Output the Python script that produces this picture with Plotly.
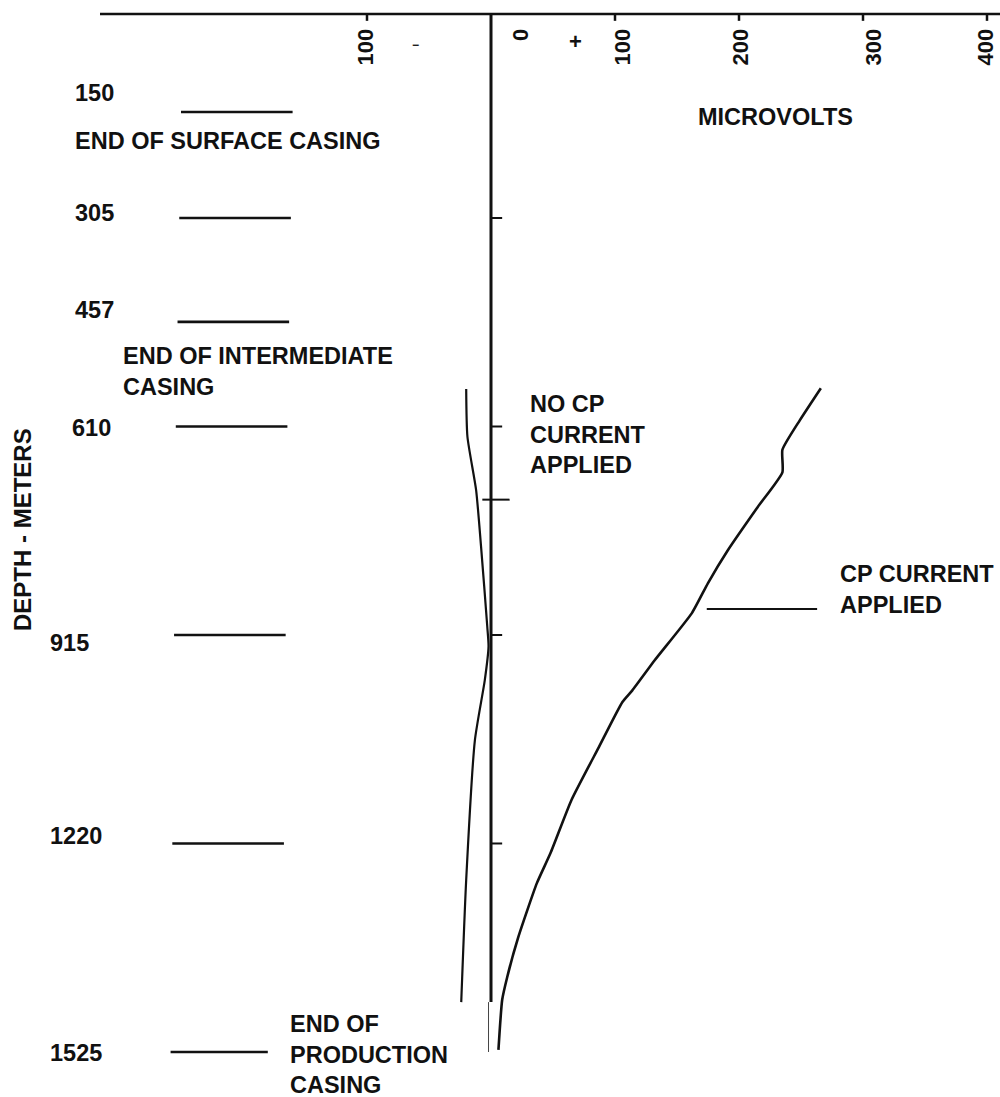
import plotly.graph_objects as go

# ---------------- data ----------------
# Casing depth marks (m)
casing_depths = [150, 305, 457, 610, 915, 1220, 1525]
casing_labels = ["150", "305", "457", "610", "915", "1220", "1525"]

# NO CP current applied curve (microvolts vs depth m)
nocp_depth = [555, 625, 703, 786, 903, 932, 981, 1069, 1273, 1452]
nocp_uv = [-20, -19, -12, -8, -3, -2, -5, -13, -20, -24]

# CP current applied curve
cp_depth = [554, 601, 644, 677, 728, 791, 839, 883, 952, 996, 1013, 1079,
            1156, 1234, 1278, 1357, 1416, 1449, 1522]
cp_uv = [266, 249, 235, 235, 215, 191, 175, 162, 132, 114, 106, 87,
         65, 48, 37, 22, 13, 9, 6]

# Top axis ticks
top_tick_vals = [-100, 100, 200, 300, 400]
top_tick_text = ["100", "100", "200", "300", "400"]

# Depth ticks on zero line
zero_ticks = [305, 610, 915, 1220]
cross_tick = 717

# ---------------- geometry helpers (pixel -> paper) ----------------
W, H = 1000, 1097
X0PX, XSCALE = 491.0, 1.24       # px of 0 uV, px per uV
Y0PX, YSCALE = 9.5, 0.6836       # px of depth 0, px per m
xr = [(0 - X0PX) / XSCALE, (W - X0PX) / XSCALE]
yr = [(H - Y0PX) / YSCALE, (0 - Y0PX) / YSCALE]
AXIS_TOP = (14 - Y0PX) / YSCALE  # depth level of the drawn top axis line


def px(x):
    return x / W


def py(y):
    return 1 - y / H


FONT = dict(family="Liberation Sans, Arial, sans-serif", size=23.5, color="#111111", weight="bold")

fig = go.Figure()

# Curves
fig.add_trace(go.Scatter(x=nocp_uv, y=nocp_depth, mode="lines",
                         line=dict(color="#111", width=2.2, shape="spline", smoothing=0.6),
                         hoverinfo="skip"))
fig.add_trace(go.Scatter(x=cp_uv, y=cp_depth, mode="lines",
                         line=dict(color="#111", width=2.6, shape="spline", smoothing=0.5),
                         hoverinfo="skip"))

# Zero line (thick part and thin tail)
fig.add_trace(go.Scatter(x=[0, 0], y=[AXIS_TOP, 1452], mode="lines",
                         line=dict(color="#111", width=3), hoverinfo="skip"))
fig.add_trace(go.Scatter(x=[-2, -2], y=[1452, casing_depths[-1]], mode="lines",
                         line=dict(color="#444", width=1), hoverinfo="skip"))

# Top axis line
fig.add_trace(go.Scatter(x=[(100 - X0PX) / XSCALE, xr[1]], y=[AXIS_TOP, AXIS_TOP], mode="lines",
                         line=dict(color="#111", width=2.5), hoverinfo="skip"))
# top ticks
tx, ty = [], []
for v in top_tick_vals:
    tx += [v, v, None]
    ty += [AXIS_TOP, AXIS_TOP + 10, None]
fig.add_trace(go.Scatter(x=tx, y=ty, mode="lines", line=dict(color="#111", width=2.5),
                         hoverinfo="skip"))

# zero-line ticks
zx, zy = [], []
for d in zero_ticks:
    zx += [0, 9, None]
    zy += [d, d, None]
zx += [-7, 15, None]
zy += [cross_tick, cross_tick, None]
fig.add_trace(go.Scatter(x=zx, y=zy, mode="lines", line=dict(color="#111", width=2),
                         hoverinfo="skip"))

# Casing lines
cx, cy = [], []
for i, d in enumerate(casing_depths):
    left = -250 - i * 1.4
    right = -160 - i * 1.4 if d != 1525 else -180
    cx += [left, right, None]
    cy += [d, d, None]
fig.add_trace(go.Scatter(x=cx, y=cy, mode="lines", line=dict(color="#111", width=2.6),
                         hoverinfo="skip"))

# CP pointer line
fig.add_trace(go.Scatter(x=[174, 263], y=[877, 877], mode="lines",
                         line=dict(color="#111", width=1.8), hoverinfo="skip"))

ann = []


def add_text(text, xl, yc, size=23.5, align="left"):
    f = dict(FONT)
    f["size"] = size
    ann.append(dict(text=text, x=px(xl), y=py(yc), xref="paper", yref="paper",
                    xanchor="left", yanchor="middle", showarrow=False, align=align,
                    font=f))


# depth labels
label_pos = [(75, 93), (75, 213), (75, 310), (72, 428), (50, 643), (50, 836), (50, 1053)]
for lab, (xl, yc) in zip(casing_labels, label_pos):
    add_text(lab, xl - 2, yc)

add_text("END OF SURFACE CASING", 73, 141)
add_text("END OF INTERMEDIATE<br>CASING", 121, 371)
add_text("NO CP<br>CURRENT<br>APPLIED", 528, 434)
add_text("MICROVOLTS", 696, 117)
add_text("CP CURRENT<br>APPLIED", 838, 589)
add_text("END OF<br>PRODUCTION<br>CASING", 288, 1054)

# Depth axis title
ann.append(dict(text="DEPTH - METERS", x=px(22), y=py(530), xref="paper", yref="paper",
                xanchor="center", yanchor="middle", showarrow=False, textangle=-90,
                font=dict(FONT, size=24)))

# top tick labels (rotated)
top_label_x = [365, 622, 740, 873, 985]
for t, xc in zip(top_tick_text, top_label_x):
    ann.append(dict(text=t, x=px(xc), y=py(27), xref="paper", yref="paper",
                    xanchor="center", yanchor="top", showarrow=False, textangle=-90,
                    font=dict(FONT, size=22)))
ann.append(dict(text="0", x=px(521), y=py(27), xref="paper", yref="paper",
                xanchor="center", yanchor="top", showarrow=False, textangle=-90,
                font=dict(FONT, size=22)))
ann.append(dict(text="+", x=px(575), y=py(42), xref="paper", yref="paper",
                xanchor="center", yanchor="middle", showarrow=False,
                font=dict(FONT, size=22)))
ann.append(dict(text="−", x=px(415), y=py(45), xref="paper", yref="paper",
                xanchor="center", yanchor="middle", showarrow=False,
                font=dict(FONT, size=12)))

fig.update_layout(
    width=W, height=H,
    margin=dict(l=0, r=0, t=0, b=0),
    paper_bgcolor="white", plot_bgcolor="white",
    showlegend=False,
    xaxis=dict(range=xr, visible=False, fixedrange=True),
    yaxis=dict(range=yr, visible=False, fixedrange=True),
    annotations=ann,
)

fig.write_html(
    "out.html",
    config={"displayModeBar": False},
    post_script="document.body.style.margin='0';document.body.style.overflow='hidden';",
)
